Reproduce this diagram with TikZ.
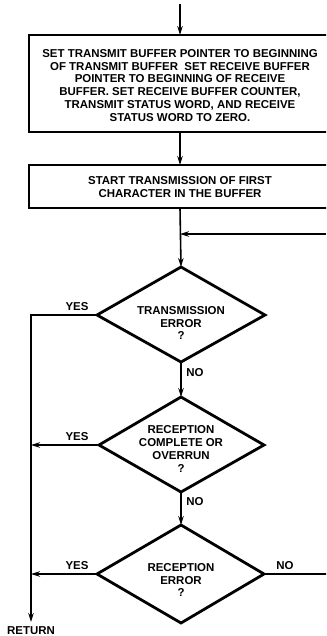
\documentclass[tikz,border=0pt]{standalone}
\usepackage{fontspec}
\setmainfont{Liberation Sans}
\usetikzlibrary{arrows.meta,shapes.geometric}
\tikzset{
  lbl/.style={font=\bfseries\fontsize{11.5}{13}\selectfont, inner sep=0pt, align=center},
  boxline/.style={line width=2.3pt},
  dia/.style={line width=2.8pt, line join=miter},
  conn/.style={line width=1.6pt},
  arr/.style={conn, -{Stealth[length=9bp,width=5.5bp]}},
}
\begin{document}
\begin{tikzpicture}[x=1bp,y=-1bp]
\useasboundingbox (0,0) rectangle (326,636);
\clip (0,0) rectangle (326,636);
% nodes (coordinates)
\coordinate (top) at (180,4);
\coordinate (b1t) at (180,35);
\coordinate (b1b) at (180,132);
\coordinate (b2t) at (180,165);
\coordinate (b2b) at (180,208);
\coordinate (loopin) at (326,234);
\coordinate (loopj) at (180,234);
\coordinate (d1t) at (181,267);
\coordinate (d1l) at (97,315);
\coordinate (d1r) at (265,315);
\coordinate (d1b) at (181,362);
\coordinate (d2t) at (181,397);
\coordinate (d2l) at (99,445);
\coordinate (d2r) at (264,445);
\coordinate (d2b) at (181,492);
\coordinate (d3t) at (181,525);
\coordinate (d3l) at (97,574);
\coordinate (d3r) at (264,574);
\coordinate (d3b) at (181,623);
\coordinate (lc) at (31,315);
\coordinate (l2) at (31,445);
\coordinate (l3) at (31,574);
\coordinate (ret) at (31,622);
\coordinate (outr) at (330,574);
% boxes
\draw[boxline] (29,35) rectangle (340,132);
\draw[boxline] (29,165) rectangle (340,208);
\node[lbl] (t1) at (180,85.5) {SET TRANSMIT BUFFER POINTER TO BEGINNING\\OF TRANSMIT BUFFER\ \ SET RECEIVE BUFFER\\POINTER TO BEGINNING OF RECEIVE\\BUFFER. SET RECEIVE BUFFER COUNTER,\\TRANSMIT STATUS WORD, AND RECEIVE\\STATUS WORD TO ZERO.};
\node[lbl] (t2) at (180,187) {START TRANSMISSION OF FIRST\\CHARACTER IN THE BUFFER};
% diamonds
\draw[dia] (d1t) -- (d1r) -- (d1b) -- (d1l) -- cycle;
\draw[dia] (d2t) -- (d2r) -- (d2b) -- (d2l) -- cycle;
\draw[dia] (d3t) -- (d3r) -- (d3b) -- (d3l) -- cycle;
\node[lbl] (q1) at (181,323) {TRANSMISSION\\ERROR\\?};
\node[lbl] (q2) at (181,449) {RECEPTION\\COMPLETE OR\\OVERRUN\\?};
\node[lbl] (q3) at (181,580) {RECEPTION\\ERROR\\?};
% connectors
\draw[arr] (top) -- (b1t);
\draw[arr] (b1b) -- (b2t);
\draw[arr] (b2b) -- (d1t);
\draw[arr] (loopin) -- (loopj);
\draw[arr] (d1b) -- (d2t);
\draw[arr] (d2b) -- (d3t);
\draw[arr] (d1l) -- (lc) -- (ret);
\draw[arr] (d2l) -- (l2);
\draw[arr] (d3l) -- (l3);
\draw[conn] (d3r) -- (outr);
% labels
\node[lbl] (y1) at (77,307) {YES};
\node[lbl] (y2) at (77,437) {YES};
\node[lbl] (y3) at (77,566) {YES};
\node[lbl] (n1) at (195,373) {NO};
\node[lbl] (n2) at (195,502) {NO};
\node[lbl] (n3) at (285,566) {NO};
\node[lbl] (r) at (31,631) {RETURN};
\end{tikzpicture}
\end{document}
